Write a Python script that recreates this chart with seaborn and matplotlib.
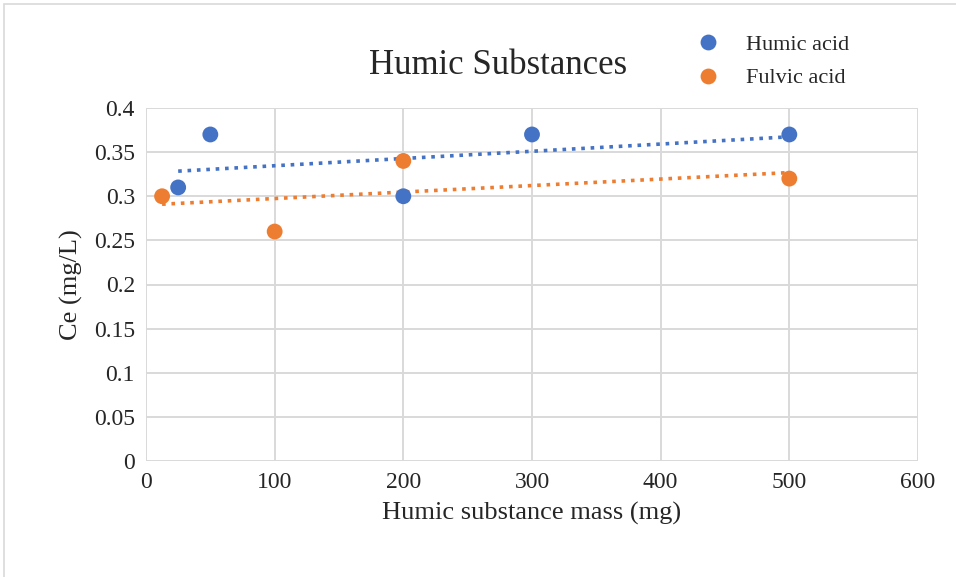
import pandas as pd
import seaborn as sns
import matplotlib.pyplot as plt
from matplotlib.patches import Rectangle
from matplotlib.ticker import FuncFormatter

# data
humic_mass = [25, 50, 200, 300, 500]
humic_ce = [0.31, 0.37, 0.30, 0.37, 0.37]
fulvic_mass = [12.5, 100, 200, 500]
fulvic_ce = [0.30, 0.26, 0.34, 0.32]

series = ['Humic acid', 'Fulvic acid']
colors = {'Humic acid': '#4472C4', 'Fulvic acid': '#ED7D31'}

df = pd.concat([
    pd.DataFrame({'mass': humic_mass, 'ce': humic_ce, 'series': 'Humic acid'}),
    pd.DataFrame({'mass': fulvic_mass, 'ce': fulvic_ce, 'series': 'Fulvic acid'}),
])

sns.set_style('white')
plt.rcParams['font.family'] = ['Liberation Serif', 'DejaVu Serif']

fig = plt.figure(figsize=(9.56, 5.77), dpi=100)
ax = fig.add_axes([146 / 956, 116 / 577, 772 / 956, 353 / 577])

# linear trend lines (dotted)
for name in series:
    sub = df[df['series'] == name]
    sns.regplot(data=sub, x='mass', y='ce', ax=ax, scatter=False, ci=None,
                color=colors[name], truncate=True,
                line_kws={'linestyle': (0, (1, 1.6)), 'linewidth': 2.6})

sns.scatterplot(data=df, x='mass', y='ce', hue='series', hue_order=series,
                palette=colors, s=130, edgecolor='none', ax=ax, zorder=5)

ax.set_xlim(0, 600)
ax.set_ylim(0, 0.4)
ax.set_xticks(range(0, 601, 100))
ax.set_yticks([i * 0.05 for i in range(9)])
ax.yaxis.set_major_formatter(FuncFormatter(lambda v, p: f'{round(v, 2):g}'))
ax.grid(True, color='#d9d9d9', linewidth=1.4)
ax.set_axisbelow(True)
for s in ax.spines.values():
    s.set_visible(False)
ax.tick_params(axis='both', length=0, labelsize=17, pad=8)

ax.set_xlabel('Humic substance mass (mg)', fontsize=19, labelpad=6)
ax.set_ylabel('Ce (mg/L)', fontsize=19, labelpad=8)

fig.text(498 / 956, 1 - 65 / 577, 'Humic Substances', fontsize=25,
         ha='center', va='center')

handles, labels = ax.get_legend_handles_labels()
ax.legend(handles, labels, loc='upper left', bbox_to_anchor=(666 / 956, 1 - 14 / 577),
          bbox_transform=fig.transFigure, frameon=False, fontsize=16,
          handletextpad=0.7, labelspacing=0.6, markerscale=1.0)

# chart border
fig.patches.append(Rectangle((4 / 956, -0.02), 1.0, 1 - 4 / 577 + 0.02,
                             transform=fig.transFigure, fill=False,
                             edgecolor='#d9d9d9', linewidth=1.2))

fig.savefig('out.png', dpi=100)
